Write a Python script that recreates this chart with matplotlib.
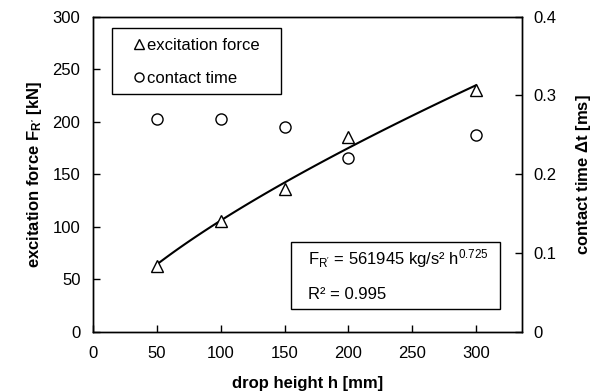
import numpy as np
import matplotlib.pyplot as plt
from matplotlib.lines import Line2D
from matplotlib.patches import Rectangle

plt.rcParams['font.family'] = ['Liberation Sans', 'DejaVu Sans']
plt.rcParams['mathtext.fontset'] = 'custom'
plt.rcParams['mathtext.rm'] = 'Liberation Sans'
plt.rcParams['mathtext.bf'] = 'Liberation Sans:bold'
plt.rcParams['font.size'] = 12

# drop heights [mm]
h = [50, 100, 150, 200, 300]
# excitation force [kN]
force = [63, 105, 136, 185, 230]
# contact time [ms]
contact = [0.270, 0.270, 0.260, 0.220, 0.250]

# power law fit shown in the chart: F = 561945 kg/s^2 * h^0.725 (h in m)
fit_coef = 561945
fit_exp = 0.725
h_fit = np.linspace(50, 300, 100)
f_fit = fit_coef * (h_fit / 1000) ** fit_exp / 1000

fig = plt.figure(figsize=(6.01, 3.92), dpi=100)
ax = fig.add_axes([0.1547, 0.1538, 0.7139, 0.8036])
ax2 = ax.twinx()

ax.plot(h_fit, f_fit, color='black', lw=1.5)
ax.plot(h, force, ls='none', marker='^', ms=9, mfc='white', mec='black', mew=1)
ax2.plot(h, contact, ls='none', marker='o', ms=8, mfc='white', mec='black', mew=1)

ax.set_xlim(0, 336)
ax.set_ylim(0, 300)
ax2.set_ylim(0, 0.4)
ax.set_xticks([0, 50, 100, 150, 200, 250, 300])
ax.set_yticks([0, 50, 100, 150, 200, 250, 300])
ax2.set_yticks([0, 0.1, 0.2, 0.3, 0.4])
ax2.set_yticklabels(['0', '0.1', '0.2', '0.3', '0.4'])

ax.tick_params(direction='in', length=5, width=1, pad=9, labelsize=12)
ax.tick_params(axis='x', pad=10)
ax2.tick_params(direction='in', length=5, width=1, pad=8, labelsize=12)
for a in (ax, ax2):
    for s in a.spines.values():
        s.set_linewidth(1)

ax.set_xlabel('drop height h [mm]', fontweight='bold', labelpad=11)
ax.set_ylabel(r"excitation force $\mathbf{F_{R'}}$ [kN]", fontweight='bold', labelpad=6)
ax2.set_ylabel(r'contact time $\mathbf{\Delta}$t [ms]', fontweight='bold', labelpad=13)

# legend box drawn separately, legend entries without frame
ax2.add_patch(Rectangle((0.0436, 0.754), 0.3946, 0.209, transform=ax2.transAxes,
                        fill=False, edgecolor='black', lw=1, zorder=5))
handles = [Line2D([], [], ls='none', marker='^', ms=6.5, mfc='white', mec='black'),
           Line2D([], [], ls='none', marker='o', ms=6.5, mfc='white', mec='black')]
ax2.legend(handles, ['excitation force', 'contact time'], loc='center left',
           bbox_to_anchor=(0.0956, 0.857), borderaxespad=0, borderpad=0,
           frameon=False, handlelength=0.6, handletextpad=0.16,
           labelspacing=1.06, fontsize=12)

ax2.add_patch(Rectangle((0.4615, 0.071), 0.4875, 0.2147, transform=ax2.transAxes,
                        fill=False, edgecolor='black', lw=1))
ax2.text(0.502, 0.233, r"$\mathregular{F_{R'}}$ = 561945 kg/s² $\mathregular{h^{0.725}}$",
         transform=ax2.transAxes, va='center', ha='left', fontsize=12)
ax2.text(0.502, 0.119, 'R² = 0.995', transform=ax2.transAxes, va='center', ha='left', fontsize=12)

fig.savefig('out.png', dpi=100)
